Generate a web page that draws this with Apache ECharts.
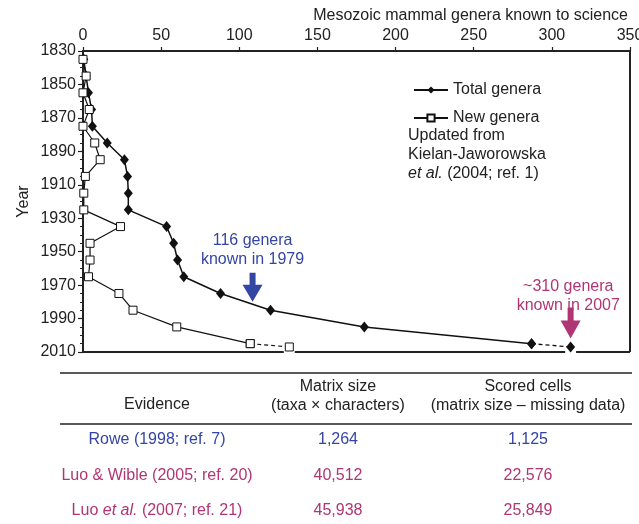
<!DOCTYPE html>
<html>
<head>
<meta charset="utf-8">
<style>
  html, body { margin: 0; padding: 0; background: #fff; }
  #chart { width: 639px; height: 524px; }
</style>
<script src="https://cdn.jsdelivr.net/npm/echarts@6/dist/echarts.min.js"></script>
</head>
<body>
<div id="chart"></div>
<script>
// data (decade midpoints, last point = 2007)
const years = [1835, 1845, 1855, 1865, 1875, 1885, 1895, 1905, 1915, 1925,
  1935, 1945, 1955, 1965, 1975, 1985, 1995, 2005, 2007];
const totalGenera = [0.5, 2, 3.5, 5.5, 6, 15.5, 26.5, 28.5, 29, 29,
  53.5, 58, 60.5, 64.5, 88, 120, 180, 287, 312];
const newGenera = [0, 2, 0, 4, 0, 7.5, 11, 1.5, 0.5, 0.5,
  24, 4.5, 4.5, 3.5, 23, 32, 60, 107, 132];

const noteLines = ["Updated from", "Kielan-Jaworowska", "{i|et al.} (2004; ref. 1)"];
const callout1979 = "116 genera\nknown in 1979";
const callout2007 = "~310 genera\nknown in 2007";

// table under the chart
const tableHeader = ["Evidence", "Matrix size\n(taxa × characters)", "Scored cells\n(matrix size – missing data)"];
const evidence = ["Rowe (1998; ref. 7)", "Luo & Wible (2005; ref. 20)", "Luo {i|et al.} (2007; ref. 21)"];
const matrixSize = ["1,264", "40,512", "45,938"];
const scoredCells = ["1,125", "22,576", "25,849"];

const FONT = '"Liberation Sans", Arial, Helvetica, sans-serif';
const INK = "#222";
const BLUE = "#3446a3";
const MAGENTA = "#b03574";
const rowColor = [BLUE, MAGENTA, MAGENTA];

const pairs = (xs) => years.map((y, i) => [xs[i], y]);
const n = years.length;
const totalPts = pairs(totalGenera);
const newPts = pairs(newGenera);

const arrowPath = "path://M7,0 L13,0 L13,12 L20,12 L10,29 L0,12 L7,12 Z";
const gap = 3.5;

var chart = echarts.init(document.getElementById("chart"));

// table graphics
var tableEls = [
  { type: "line", shape: { x1: 60, y1: 373, x2: 632, y2: 373 }, style: { stroke: INK, lineWidth: 1.5 } },
  { type: "line", shape: { x1: 60, y1: 424, x2: 632, y2: 424 }, style: { stroke: INK, lineWidth: 1.5 } }
];
var colX = [157, 338, 528];
tableHeader.forEach(function (t, i) {
  tableEls.push({
    type: "text", x: colX[i], y: i === 0 ? 405 : 396,
    style: { text: t, align: "center", verticalAlign: "middle", fontSize: 16, lineHeight: 19, fontFamily: FONT, fill: INK }
  });
});
[evidence, matrixSize, scoredCells].forEach(function (col, c) {
  col.forEach(function (t, r) {
    tableEls.push({
      type: "text", x: colX[c], y: 440 + r * 35.5,
      style: {
        text: t, align: "center", verticalAlign: "middle", fontSize: 16, fontFamily: FONT, fill: rowColor[r],
        rich: { i: { fontStyle: "italic", fontSize: 16, fontFamily: FONT, fill: rowColor[r] } }
      }
    });
  });
});

var option = {
  animation: false,
  backgroundColor: "#fff",
  grid: { left: 83, right: 9, top: 51, bottom: 172, outerBoundsMode: "none" },
  legend: {
    data: ["Total genera", "New genera"],
    orient: "vertical",
    left: 408,
    top: 77,
    itemWidth: 34,
    itemHeight: 9,
    itemGap: 12,
    selectedMode: false,
    textStyle: { fontSize: 16, color: INK, fontFamily: FONT }
  },
  xAxis: {
    type: "value",
    position: "top",
    min: 0,
    max: 350,
    interval: 50,
    axisLine: { show: true, onZero: false, lineStyle: { color: INK, width: 2 } },
    axisTick: { show: true, length: 4, lineStyle: { color: INK, width: 1.2 } },
    axisLabel: { margin: 7, color: INK, fontSize: 16, fontFamily: FONT },
    splitLine: { show: false }
  },
  yAxis: {
    type: "value",
    inverse: true,
    min: 1830,
    max: 2010,
    interval: 20,
    name: "Year",
    nameLocation: "middle",
    nameGap: 51,
    nameMoveOverlap: false,
    nameTextStyle: { color: INK, fontSize: 16, fontFamily: FONT },
    axisLine: { show: true, onZero: false, lineStyle: { color: INK, width: 2 } },
    axisTick: { show: true, length: 5, lineStyle: { color: INK, width: 1.2 } },
    minorTick: { show: true, splitNumber: 4, length: 3, lineStyle: { color: INK, width: 1 } },
    axisLabel: { margin: 7, color: INK, fontSize: 16, fontFamily: FONT, formatter: function (v) { return String(v); } },
    splitLine: { show: false }
  },
  series: [
    {
      name: "Total genera",
      type: "line",
      data: totalPts.slice(0, n - 1),
      symbol: "diamond",
      symbolSize: [9, 11],
      itemStyle: { color: "#111" },
      lineStyle: { color: "#111", width: 1.5 },
      z: 3,
      markLine: {
        silent: true,
        symbol: ["none", "none"],
        label: { show: false },
        lineStyle: { type: "solid", color: INK, width: 2 },
        data: [
          [{ coord: [350, 1830] }, { coord: [350, 2010] }],
          [{ coord: [0, 2010] }, { coord: [newGenera[n - 1] - gap, 2010] }],
          [{ coord: [newGenera[n - 1] + gap, 2010] }, { coord: [totalGenera[n - 1] - gap, 2010] }],
          [{ coord: [totalGenera[n - 1] + gap, 2010] }, { coord: [350, 2010] }]
        ]
      },
      markPoint: {
        silent: true,
        data: [
          { coord: [108.5, 1980], symbol: arrowPath, symbolSize: [20, 29], symbolOffset: [0, "-50%"],
            itemStyle: { color: BLUE }, label: { show: false } },
          { coord: [312, 2002], symbol: arrowPath, symbolSize: [20, 31], symbolOffset: [0, "-50%"],
            itemStyle: { color: MAGENTA }, label: { show: false } },
          { coord: [108.5, 1949], symbol: "circle", symbolSize: 0,
            label: { show: true, position: "inside", formatter: callout1979, color: BLUE,
              fontSize: 16, lineHeight: 19, fontFamily: FONT } },
          { coord: [310.5, 1976.5], symbol: "circle", symbolSize: 0,
            label: { show: true, position: "inside", formatter: callout2007, color: MAGENTA,
              fontSize: 16, lineHeight: 19, fontFamily: FONT } }
        ]
      }
    },
    {
      name: "Total genera 2007",
      type: "line",
      data: totalPts.slice(n - 2),
      symbol: "diamond",
      symbolSize: [9, 11],
      itemStyle: { color: "#111" },
      lineStyle: { color: "#111", width: 1.3, type: [4, 3] },
      z: 3
    },
    {
      name: "New genera",
      type: "line",
      data: newPts.slice(0, n - 1),
      symbol: "rect",
      symbolSize: 8,
      itemStyle: { color: "#fff", borderColor: "#111", borderWidth: 1 },
      lineStyle: { color: "#111", width: 1.2 },
      z: 4
    },
    {
      name: "New genera 2007",
      type: "line",
      data: newPts.slice(n - 2),
      symbol: "rect",
      symbolSize: 8,
      itemStyle: { color: "#fff", borderColor: "#111", borderWidth: 1 },
      lineStyle: { color: "#111", width: 1.2, type: [4, 3] },
      z: 4
    }
  ],
  graphic: [
    {
      type: "text", right: 11, top: 8,
      style: { text: "Mesozoic mammal genera known to science", fontSize: 16, fontFamily: FONT, fill: INK }
    },
    {
      type: "text", left: 408, top: 126,
      style: {
        text: noteLines.join("\n"), fontSize: 16, lineHeight: 19, fontFamily: FONT, fill: INK,
        rich: { i: { fontStyle: "italic", fontSize: 16, lineHeight: 19, fontFamily: FONT, fill: INK } }
      }
    }
  ].concat(tableEls)
};

chart.setOption(option);
</script>
</body>
</html>
